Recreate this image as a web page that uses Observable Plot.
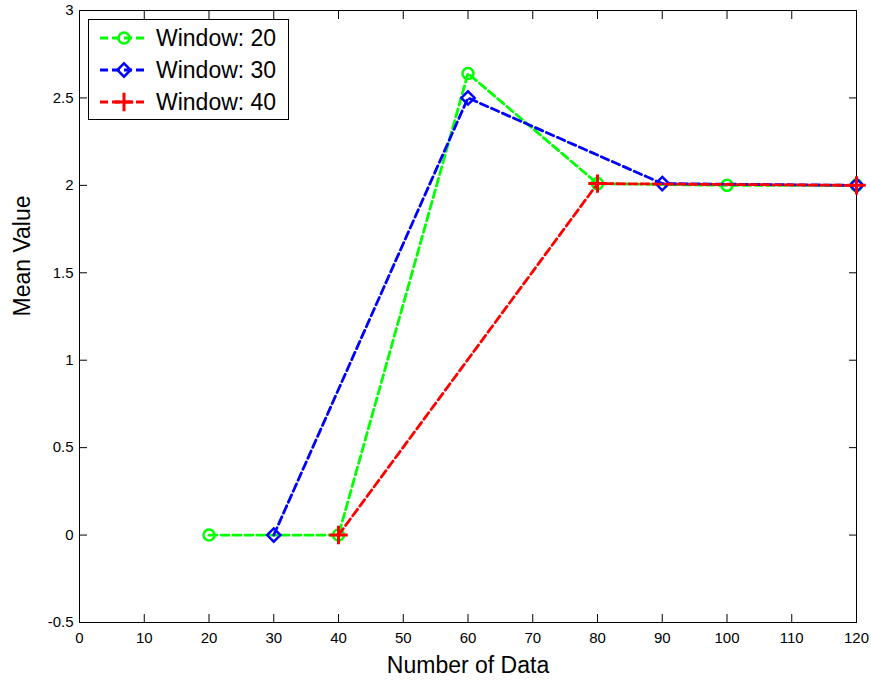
<!DOCTYPE html>
<html><head><meta charset="utf-8">
<script src="https://cdn.jsdelivr.net/npm/d3@7"></script>
<script src="https://cdn.jsdelivr.net/npm/@observablehq/plot@0.6"></script>
<style>
body{margin:0;background:#fff;font-family:"Liberation Sans",Arial,Helvetica,sans-serif}
#wrap{position:relative;width:871px;height:683px}
#legend{position:absolute;left:88px;top:19px}
</style>
</head><body><div id="wrap"></div>
<script>
// ---- data ----
const xTicks = [0,10,20,30,40,50,60,70,80,90,100,110,120];
const yTicks = [-0.5,0,0.5,1,1.5,2,2.5,3];
const seriesNames = ["Window: 20","Window: 30","Window: 40"];
const seriesColors = ["#00ff00","#0000ff","#ff0000"];
const seriesSymbols = ["circle","diamond2","plus"];
const x20 = [20,40,60,80,100,120];
const y20 = [0,0,2.64,2.01,2.0,2.0];
const x30 = [30,60,90,120];
const y30 = [0,2.5,2.01,2.0];
const x40 = [40,80,120];
const y40 = [0,2.01,2.0];
const xLabel = "Number of Data";
const yLabel = "Mean Value";

const toRows = (xs, ys) => xs.map((x,i)=>({x, y: ys[i]}));
const sets = [toRows(x20,y20), toRows(x30,y30), toRows(x40,y40)];
const symR = [5.5, 6, 6];
const symW = [2.5, 2.5, 3];

const seriesMarks = sets.flatMap((d,i)=>[
  Plot.line(d,{x:"x",y:"y",stroke:seriesColors[i],strokeWidth:2.8,strokeDasharray:"8,4"}),
  Plot.dot(d,{x:"x",y:"y",symbol:seriesSymbols[i],stroke:seriesColors[i],fill:"none",r:symR[i],strokeWidth:symW[i]})
]);

const chart = Plot.plot({
  width: 871, height: 683,
  marginTop: 10, marginLeft: 79, marginRight: 15, marginBottom: 61,
  style: {fontFamily:'"Liberation Sans",Arial,Helvetica,sans-serif', fontSize:"15px", color:"#000", background:"#fff"},
  x: {domain:[0,120]},
  y: {domain:[-0.5,3]},
  marks: [
    Plot.axisX({anchor:"bottom", ticks:xTicks, tickSize:0, tickPadding:10, label:null, tickFormat:d=>String(d), fontSize:15}),
    Plot.axisY({anchor:"left", ticks:yTicks, tickSize:0, tickPadding:6, label:null, tickFormat:d=>String(d), fontSize:15}),
    Plot.axisX({anchor:"bottom", ticks:xTicks, tickSize:-8, fill:"none", label:null}),
    Plot.axisX({anchor:"top", ticks:xTicks, tickSize:-8, fill:"none", label:null}),
    Plot.axisY({anchor:"left", ticks:yTicks, tickSize:-8, fill:"none", label:null}),
    Plot.axisY({anchor:"right", ticks:yTicks, tickSize:-8, fill:"none", label:null}),
    Plot.frame({stroke:"#000", strokeWidth:1}),
    ...seriesMarks,
    Plot.text([xLabel],{frameAnchor:"bottom", dy:50, fontSize:23, fill:"#000"}),
    Plot.text([yLabel],{frameAnchor:"left", dx:-57, rotate:-90, fontSize:23, fill:"#000"})
  ]
});
d3.select(chart).selectAll('g[aria-label$="tick label"], g[aria-label$="tick label"] text')
  .style("font-size","15px");
const wrap = document.getElementById("wrap");
wrap.appendChild(chart);

// legend overlay
const lg = d3.select(wrap).append("svg").attr("id","legend").attr("width",202).attr("height",102);
lg.append("rect").attr("x",0.5).attr("y",0.5).attr("width",200).attr("height",100).attr("fill","#fff").attr("stroke","#000");
const symMap = {circle:d3.symbolCircle, diamond2:d3.symbolDiamond2, plus:d3.symbolPlus};
seriesNames.forEach((name,i)=>{
  const cy = 19 + i*32;
  lg.append("line").attr("x1",12).attr("x2",60).attr("y1",cy).attr("y2",cy)
    .attr("stroke",seriesColors[i]).attr("stroke-width",2.8).attr("stroke-dasharray","8,4");
  lg.append("path").attr("transform",`translate(36,${cy})`)
    .attr("d", d3.symbol(symMap[seriesSymbols[i]], Math.PI*symR[i]*symR[i])())
    .attr("fill","none").attr("stroke",seriesColors[i]).attr("stroke-width",symW[i]);
  lg.append("text").attr("x",68).attr("y",cy).attr("dy","0.35em")
    .attr("font-size",23).attr("fill","#000").text(name);
});
</script></body></html>
